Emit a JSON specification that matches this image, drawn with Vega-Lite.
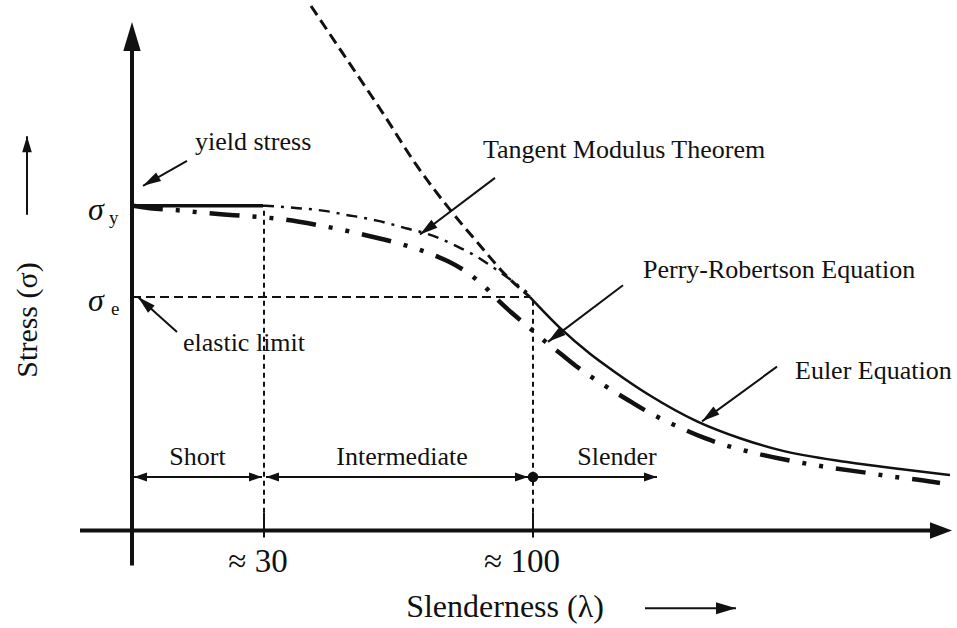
{
  "$schema": "https://vega.github.io/schema/vega-lite/v6.json",
  "width": 957,
  "height": 628,
  "autosize": {"type": "fit", "contains": "padding"},
  "padding": 0,
  "background": "white",
  "config": {"view": {"stroke": null}},
  "datasets": {
    "curves": [
      {"c": "euler_dash", "x": 179, "y": 528}, {"c": "euler_dash", "x": 211, "y": 480}, {"c": "euler_dash", "x": 251, "y": 420}, {"c": "euler_dash", "x": 285, "y": 367}, {"c": "euler_dash", "x": 318, "y": 323}, {"c": "euler_dash", "x": 348, "y": 287}, {"c": "euler_dash", "x": 373, "y": 258}, {"c": "euler_dash", "x": 398, "y": 235},
      {"c": "euler", "x": 398, "y": 235}, {"c": "euler", "x": 428, "y": 204}, {"c": "euler", "x": 458, "y": 178}, {"c": "euler", "x": 481, "y": 161}, {"c": "euler", "x": 518, "y": 136}, {"c": "euler", "x": 565, "y": 110}, {"c": "euler", "x": 608, "y": 93}, {"c": "euler", "x": 648, "y": 81}, {"c": "euler", "x": 715, "y": 69}, {"c": "euler", "x": 768, "y": 62}, {"c": "euler", "x": 818, "y": 56},
      {"c": "tangent", "x": 131, "y": 327}, {"c": "tangent", "x": 148, "y": 326}, {"c": "tangent", "x": 166, "y": 324.5}, {"c": "tangent", "x": 183, "y": 323}, {"c": "tangent", "x": 198, "y": 321}, {"c": "tangent", "x": 213, "y": 318}, {"c": "tangent", "x": 230, "y": 315}, {"c": "tangent", "x": 245, "y": 312}, {"c": "tangent", "x": 261, "y": 308}, {"c": "tangent", "x": 275, "y": 304}, {"c": "tangent", "x": 291, "y": 300}, {"c": "tangent", "x": 308, "y": 294}, {"c": "tangent", "x": 325, "y": 286}, {"c": "tangent", "x": 341, "y": 278}, {"c": "tangent", "x": 358, "y": 267}, {"c": "tangent", "x": 378, "y": 253}, {"c": "tangent", "x": 395, "y": 240},
      {"c": "perry", "x": 1, "y": 327}, {"c": "perry", "x": 18, "y": 324.5}, {"c": "perry", "x": 51, "y": 322}, {"c": "perry", "x": 70, "y": 320}, {"c": "perry", "x": 102, "y": 317.5}, {"c": "perry", "x": 135, "y": 315}, {"c": "perry", "x": 153, "y": 313}, {"c": "perry", "x": 186, "y": 307.5}, {"c": "perry", "x": 218, "y": 301}, {"c": "perry", "x": 235, "y": 297}, {"c": "perry", "x": 267, "y": 289}, {"c": "perry", "x": 300, "y": 278}, {"c": "perry", "x": 316, "y": 271}, {"c": "perry", "x": 335, "y": 260}, {"c": "perry", "x": 350, "y": 248}, {"c": "perry", "x": 366, "y": 232}, {"c": "perry", "x": 380, "y": 219}, {"c": "perry", "x": 393, "y": 208}, {"c": "perry", "x": 416, "y": 188}, {"c": "perry", "x": 430, "y": 177}, {"c": "perry", "x": 445, "y": 165}, {"c": "perry", "x": 468, "y": 149}, {"c": "perry", "x": 500, "y": 129}, {"c": "perry", "x": 515, "y": 120}, {"c": "perry", "x": 543, "y": 106}, {"c": "perry", "x": 573, "y": 93}, {"c": "perry", "x": 590, "y": 87}, {"c": "perry", "x": 623, "y": 78}, {"c": "perry", "x": 655, "y": 71}, {"c": "perry", "x": 671, "y": 68}, {"c": "perry", "x": 701, "y": 63}, {"c": "perry", "x": 736, "y": 58}, {"c": "perry", "x": 755, "y": 55}, {"c": "perry", "x": 788, "y": 51}, {"c": "perry", "x": 808, "y": 48}
    ],
    "segs": [
      {"k": "axis", "x": 0, "y": -35, "x2": 0, "y2": 490},
      {"k": "axis", "x": -52, "y": 0, "x2": 805, "y2": 0},
      {"k": "plateau", "x": 0, "y": 327, "x2": 131, "y2": 327},
      {"k": "thin", "x": 55, "y": 372, "x2": 11, "y2": 347},
      {"k": "thin", "x": 45, "y": 200, "x2": 6, "y2": 235},
      {"k": "thin", "x": 363, "y": 355, "x2": 288, "y2": 298},
      {"k": "thin", "x": 491, "y": 247, "x2": 416, "y2": 190},
      {"k": "thin", "x": 645, "y": 165, "x2": 570, "y2": 110},
      {"k": "thin", "x": 2, "y": 54, "x2": 130, "y2": 54},
      {"k": "thin", "x": 134, "y": 54, "x2": 396, "y2": 54},
      {"k": "thin", "x": 401, "y": 54, "x2": 525, "y2": 54},
      {"k": "thin", "x": -105, "y": 318, "x2": -105, "y2": 397},
      {"k": "thin", "x": 513, "y": -78, "x2": 604, "y2": -78},
      {"k": "thin", "x": 132, "y": -7, "x2": 132, "y2": 18},
      {"k": "thin", "x": 401, "y": -7, "x2": 401, "y2": 18},
      {"k": "dotted", "x": 132, "y": 18, "x2": 132, "y2": 327},
      {"k": "dotted", "x": 401, "y": 18, "x2": 401, "y2": 235},
      {"k": "dashed", "x": 0, "y": 235, "x2": 398, "y2": 235}
    ],
    "heads": [
      {"k": "axis_y", "x": 0, "y": 512},
      {"k": "axis_x", "x": 820, "y": 0},
      {"k": "stress", "x": -105, "y": 397},
      {"k": "slender_axis", "x": 604, "y": -78},
      {"k": "range_l", "x": 2, "y": 54},
      {"k": "range_l", "x": 134, "y": 54},
      {"k": "range_r", "x": 130, "y": 54},
      {"k": "range_r", "x": 396, "y": 54},
      {"k": "range_r", "x": 525, "y": 54},
      {"k": "lead_yield", "x": 11, "y": 347},
      {"k": "lead_elastic", "x": 6, "y": 235},
      {"k": "lead_curve", "x": 288, "y": 298},
      {"k": "lead_curve", "x": 416, "y": 190},
      {"k": "lead_curve", "x": 570, "y": 110},
      {"k": "dot", "x": 401, "y": 54}
    ],
    "labels": [
      {"k": "note", "t": "yield stress", "x": 63, "y": 383},
      {"k": "note", "t": "elastic limit", "x": 51, "y": 181},
      {"k": "note", "t": "Tangent Modulus Theorem", "x": 351, "y": 375},
      {"k": "note", "t": "Perry-Robertson Equation", "x": 511, "y": 254},
      {"k": "note", "t": "Euler Equation", "x": 663, "y": 153},
      {"k": "range", "t": "Short", "x": 65.5, "y": 66},
      {"k": "range", "t": "Intermediate", "x": 270, "y": 66},
      {"k": "range", "t": "Slender", "x": 485, "y": 66},
      {"k": "tick", "t": "≈ 30", "x": 126, "y": -42},
      {"k": "tick", "t": "≈ 100", "x": 390, "y": -42},
      {"k": "xtitle", "t": "Slenderness (λ)", "x": 373, "y": -87},
      {"k": "ytitle", "t": "Stress (σ)", "x": -104, "y": 212},
      {"k": "sigma", "t": "σ", "x": -44, "y": 313},
      {"k": "sigma", "t": "σ", "x": -44, "y": 221},
      {"k": "sub", "t": "y", "x": -23, "y": 309},
      {"k": "sub", "t": "e", "x": -21, "y": 217}
    ]
  },
  "encoding": {
    "x": {"field": "x", "type": "quantitative", "scale": {"domain": [-132, 825], "nice": false, "zero": false}, "axis": null},
    "y": {"field": "y", "type": "quantitative", "scale": {"domain": [-98, 530], "nice": false, "zero": false}, "axis": null}
  },
  "layer": [
    {"data": {"name": "segs"}, "transform": [{"filter": "datum.k == 'dotted'"}], "mark": {"type": "rule", "color": "#111", "strokeWidth": 2, "strokeDash": [5, 4]}, "encoding": {"x2": {"field": "x2"}, "y2": {"field": "y2"}}},
    {"data": {"name": "segs"}, "transform": [{"filter": "datum.k == 'dashed'"}], "mark": {"type": "rule", "color": "#111", "strokeWidth": 2, "strokeDash": [9, 5]}, "encoding": {"x2": {"field": "x2"}, "y2": {"field": "y2"}}},
    {"data": {"name": "segs"}, "transform": [{"filter": "datum.k == 'thin'"}], "mark": {"type": "rule", "color": "#111", "strokeWidth": 2}, "encoding": {"x2": {"field": "x2"}, "y2": {"field": "y2"}}},
    {"data": {"name": "segs"}, "transform": [{"filter": "datum.k == 'plateau'"}], "mark": {"type": "rule", "color": "#111", "strokeWidth": 3.5}, "encoding": {"x2": {"field": "x2"}, "y2": {"field": "y2"}}},
    {"data": {"name": "segs"}, "transform": [{"filter": "datum.k == 'axis'"}], "mark": {"type": "rule", "color": "#111", "strokeWidth": 4}, "encoding": {"x2": {"field": "x2"}, "y2": {"field": "y2"}}},
    {"data": {"name": "curves"}, "transform": [{"filter": "datum.c == 'euler_dash'"}], "mark": {"type": "line", "color": "#111", "strokeWidth": 3, "strokeDash": [11, 6], "interpolate": "monotone"}, "encoding": {}},
    {"data": {"name": "curves"}, "transform": [{"filter": "datum.c == 'euler'"}], "mark": {"type": "line", "color": "#111", "strokeWidth": 2.5, "interpolate": "monotone"}, "encoding": {}},
    {"data": {"name": "curves"}, "transform": [{"filter": "datum.c == 'tangent'"}], "mark": {"type": "line", "color": "#111", "strokeWidth": 2.5, "strokeDash": [11, 7, 3, 7], "interpolate": "monotone"}, "encoding": {}},
    {"data": {"name": "curves"}, "transform": [{"filter": "datum.c == 'perry'"}], "mark": {"type": "line", "color": "#111", "strokeWidth": 4.5, "strokeDash": [30, 13, 4, 13, 4, 13], "interpolate": "monotone"}, "encoding": {}},
    {"data": {"name": "heads"}, "transform": [{"filter": "datum.k == 'axis_y'"}], "mark": {"type": "point", "shape": "M0,0L0.6,2L-0.6,2Z", "filled": true, "color": "#111", "opacity": 1, "size": 841, "angle": 0}},
    {"data": {"name": "heads"}, "transform": [{"filter": "datum.k == 'axis_x'"}], "mark": {"type": "point", "shape": "M0,0L0.75,2L-0.75,2Z", "filled": true, "color": "#111", "opacity": 1, "size": 484, "angle": 90}},
    {"data": {"name": "heads"}, "transform": [{"filter": "datum.k == 'stress'"}], "mark": {"type": "point", "shape": "M0,0L0.6,2L-0.6,2Z", "filled": true, "color": "#111", "opacity": 1, "size": 256, "angle": 0}},
    {"data": {"name": "heads"}, "transform": [{"filter": "datum.k == 'slender_axis'"}], "mark": {"type": "point", "shape": "M0,0L0.6,2L-0.6,2Z", "filled": true, "color": "#111", "opacity": 1, "size": 400, "angle": 90}},
    {"data": {"name": "heads"}, "transform": [{"filter": "datum.k == 'range_l'"}], "mark": {"type": "point", "shape": "M0,0L0.7,2L-0.7,2Z", "filled": true, "color": "#111", "opacity": 1, "size": 169, "angle": 270}},
    {"data": {"name": "heads"}, "transform": [{"filter": "datum.k == 'range_r'"}], "mark": {"type": "point", "shape": "M0,0L0.7,2L-0.7,2Z", "filled": true, "color": "#111", "opacity": 1, "size": 169, "angle": 90}},
    {"data": {"name": "heads"}, "transform": [{"filter": "datum.k == 'lead_yield'"}], "mark": {"type": "point", "shape": "M0,0L0.55,2L-0.55,2Z", "filled": true, "color": "#111", "opacity": 1, "size": 324, "angle": 240}},
    {"data": {"name": "heads"}, "transform": [{"filter": "datum.k == 'lead_elastic'"}], "mark": {"type": "point", "shape": "M0,0L0.55,2L-0.55,2Z", "filled": true, "color": "#111", "opacity": 1, "size": 324, "angle": 312}},
    {"data": {"name": "heads"}, "transform": [{"filter": "datum.k == 'lead_curve'"}], "mark": {"type": "point", "shape": "M0,0L0.55,2L-0.55,2Z", "filled": true, "color": "#111", "opacity": 1, "size": 324, "angle": 233}},
    {"data": {"name": "heads"}, "transform": [{"filter": "datum.k == 'dot'"}], "mark": {"type": "point", "shape": "circle", "filled": true, "color": "#111", "opacity": 1, "size": 110}},
    {"data": {"name": "labels"}, "transform": [{"filter": "datum.k == 'note'"}], "mark": {"type": "text", "font": "Liberation Serif", "fontSize": 26, "align": "left", "baseline": "alphabetic", "color": "#111"}, "encoding": {"text": {"field": "t"}}},
    {"data": {"name": "labels"}, "transform": [{"filter": "datum.k == 'range'"}], "mark": {"type": "text", "font": "Liberation Serif", "fontSize": 26, "align": "center", "baseline": "alphabetic", "color": "#111"}, "encoding": {"text": {"field": "t"}}},
    {"data": {"name": "labels"}, "transform": [{"filter": "datum.k == 'tick'"}], "mark": {"type": "text", "font": "Liberation Serif", "fontSize": 33, "align": "center", "baseline": "alphabetic", "color": "#111"}, "encoding": {"text": {"field": "t"}}},
    {"data": {"name": "labels"}, "transform": [{"filter": "datum.k == 'xtitle'"}], "mark": {"type": "text", "font": "Liberation Serif", "fontSize": 32, "align": "center", "baseline": "alphabetic", "color": "#111"}, "encoding": {"text": {"field": "t"}}},
    {"data": {"name": "labels"}, "transform": [{"filter": "datum.k == 'ytitle'"}], "mark": {"type": "text", "font": "Liberation Serif", "fontSize": 30, "align": "center", "baseline": "middle", "angle": 270, "color": "#111"}, "encoding": {"text": {"field": "t"}}},
    {"data": {"name": "labels"}, "transform": [{"filter": "datum.k == 'sigma'"}], "mark": {"type": "text", "font": "Liberation Serif", "fontSize": 32, "fontStyle": "italic", "align": "left", "baseline": "alphabetic", "color": "#111"}, "encoding": {"text": {"field": "t"}}},
    {"data": {"name": "labels"}, "transform": [{"filter": "datum.k == 'sub'"}], "mark": {"type": "text", "font": "Liberation Serif", "fontSize": 19, "align": "left", "baseline": "alphabetic", "color": "#111"}, "encoding": {"text": {"field": "t"}}}
  ]
}
